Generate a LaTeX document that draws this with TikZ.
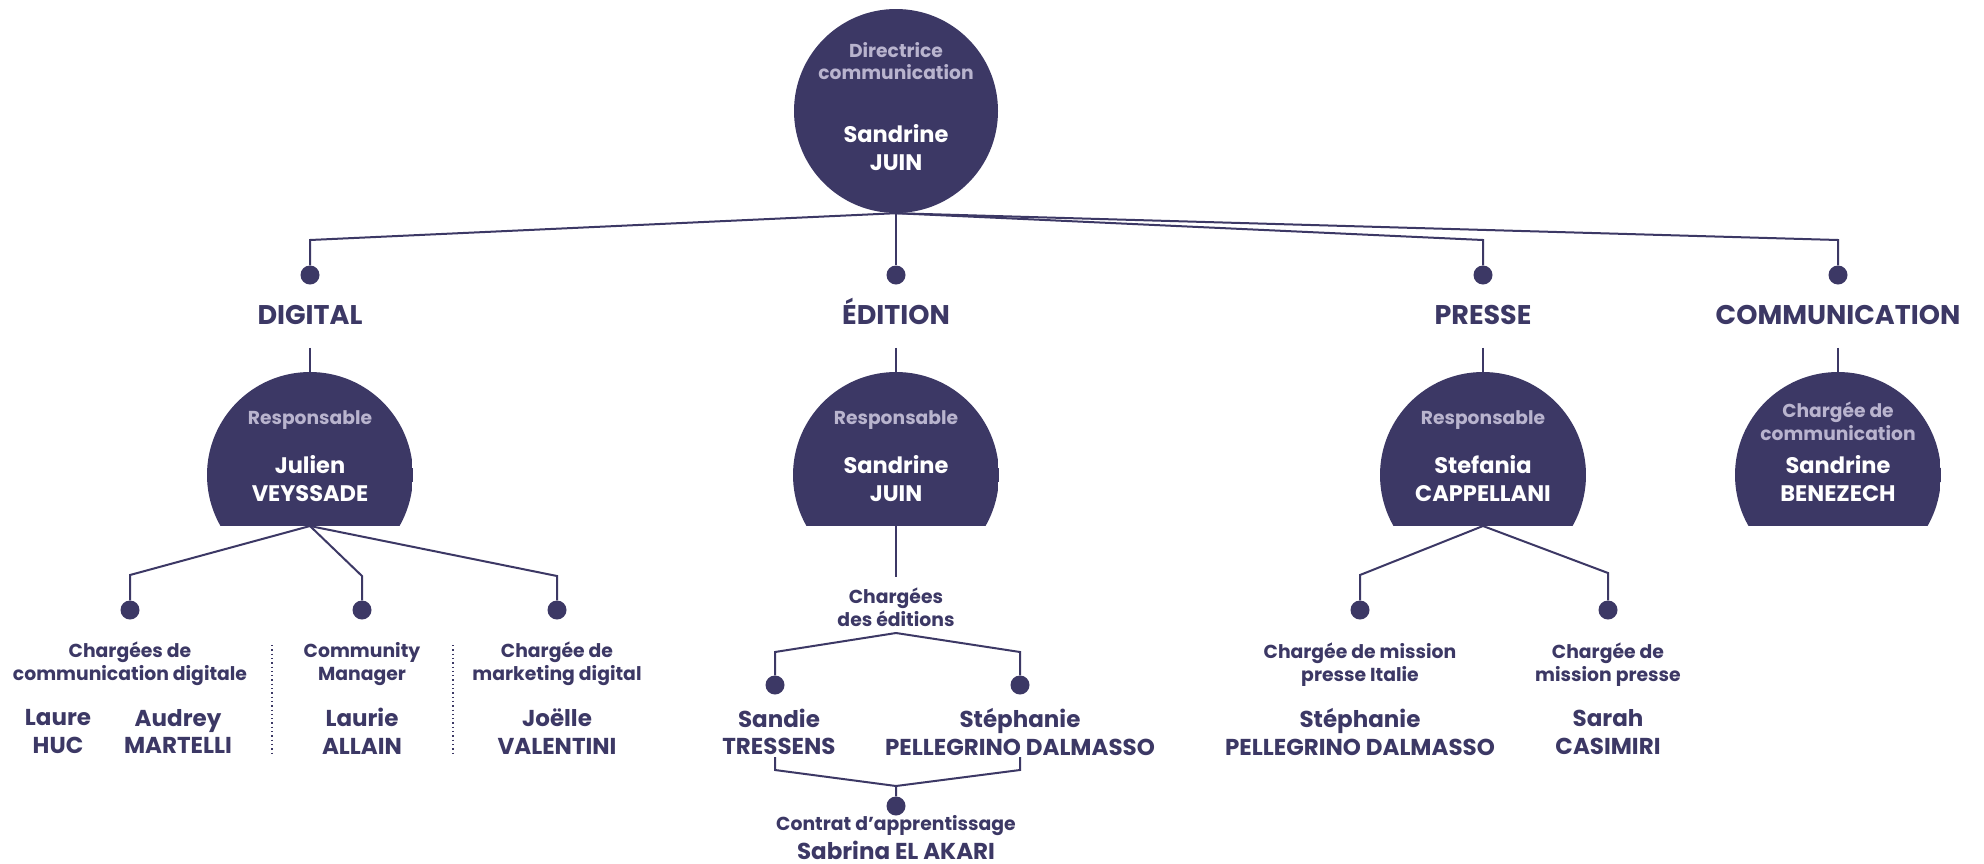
\documentclass[tikz,border=0pt]{standalone}
\usepackage{fontspec}
\setmainfont{Poppins}
\usetikzlibrary{calc}
\definecolor{navy}{HTML}{3C3865}
\definecolor{lav}{HTML}{B9B4CE}
\begin{document}
\begin{tikzpicture}[x=1pt,y=-1pt,
  conn/.style={draw=navy, line width=2pt},
  sep/.style={draw=navy, line width=1.3pt, dash pattern=on 1.3pt off 3pt},
  pdot/.style={circle, fill=navy, minimum size=19pt, inner sep=0pt},
  lvl/.style={font=\bfseries\fontsize{27}{31}\selectfont, text=navy, inner sep=0pt, text height=19.5pt, text depth=0pt},
  role/.style={font=\bfseries\fontsize{18.8}{23}\selectfont, text=navy, align=center, inner sep=0pt},
  pname/.style={font=\bfseries\fontsize{23}{27.5}\selectfont, text=navy, align=center, inner sep=0pt},
  ctitle/.style={font=\bfseries\fontsize{18.7}{22.5}\selectfont, text=lav, align=center, inner sep=0pt},
  cname/.style={font=\bfseries\fontsize{22.5}{28}\selectfont, text=white, align=center, inner sep=0pt},
  bubble/.style={circle, fill=navy, minimum size=204pt, inner sep=0pt},
  halfbub/.style={circle, minimum size=206pt, inner sep=0pt,
    path picture={\fill[navy] (path picture bounding box.north west) rectangle ($(path picture bounding box.center)+(103pt,-51pt)$);}}
]
\useasboundingbox[fill=white] (0,0) rectangle (1984,863);

% top
\node[bubble] (dir) at (896,111) {};
\node[ctitle] (dirT) at (896,61) {Directrice\\communication};
\node[cname] (dirN) at (896,148) {Sandrine\\JUIN};

% level dots
\node[pdot] (d1) at (310,275) {};
\node[pdot] (d2) at (896,275) {};
\node[pdot] (d3) at (1483,275) {};
\node[pdot] (d4) at (1838,275) {};
\draw[conn] (dir.south) -- ($(d1)+(0,-35)$) -- (d1);
\draw[conn] (dir.south) -- (d2);
\draw[conn] (dir.south) -- ($(d3)+(0,-35)$) -- (d3);
\draw[conn] (dir.south) -- ($(d4)+(0,-35)$) -- (d4);

% level labels
\node[lvl] (l1) at (310,315) {DIGITAL};
\node[lvl] (l2) at (896,315) {ÉDITION};
\node[lvl] (l3) at (1483,315) {PRESSE};
\node[lvl] (l4) at (1838,315) {COMMUNICATION};

% level circles
\node[halfbub] (dig) at (310,475) {};
\node[halfbub] (edi) at (896,475) {};
\node[halfbub] (pre) at (1483,475) {};
\node[halfbub] (com) at (1838,475) {};
\foreach \l/\c in {l1/dig,l2/edi,l3/pre,l4/com}{
  \draw[conn] ($(\l.south)+(0,23)$) -- (\c.north);
}
\coordinate (digB) at ([yshift=-51pt]dig.center);
\coordinate (ediB) at ([yshift=-51pt]edi.center);
\coordinate (preB) at ([yshift=-51pt]pre.center);

\node[ctitle] (digT) at (310,420) {Responsable};
\node[cname] (digN) at (310,478.5) {Julien\\VEYSSADE};
\node[ctitle] (ediT) at (896,420) {Responsable};
\node[cname] (ediN) at (896,478.5) {Sandrine\\JUIN};
\node[ctitle] (preT) at (1483,420) {Responsable};
\node[cname] (preN) at (1483,478.5) {Stefania\\CAPPELLANI};
\node[ctitle] (comT) at (1838,421.5) {Chargée de\\communication};
\node[cname] (comN) at (1838,478.5) {Sandrine\\BENEZECH};

% DIGITAL children
\node[pdot] (c1) at (130,610) {};
\node[pdot] (c2) at (362,610) {};
\node[pdot] (c3) at (557,610) {};
\draw[conn] (digB) -- ($(c1)+(0,-35)$) -- (c1);
\draw[conn] (digB) -- ($(c2)+(0,-34)$) -- (c2);
\draw[conn] (digB) -- ($(c3)+(0,-34)$) -- (c3);
\node[role] (r1) at (130,664) {Chargées de\\communication digitale};
\node[pname] (n1a) at (58,731.5) {Laure\\HUC};
\node[pname] (n1b) at (178,731.5) {Audrey\\MARTELLI};
\node[role] (r2) at (362,664) {Community\\Manager};
\node[pname] (n2) at (362,731.5) {Laurie\\ALLAIN};
\node[role] (r3) at (557,664) {Chargée de\\marketing digital};
\node[pname] (n3) at (557,731.5) {Joëlle\\VALENTINI};
\coordinate (s1t) at (272,645); \coordinate (s1b) at (272,753);
\coordinate (s2t) at (453,645); \coordinate (s2b) at (453,753);
\draw[sep] (s1t) -- (s1b);
\draw[sep] (s2t) -- (s2b);

% EDITION children
\coordinate (ediE) at (896,577);
\draw[conn] (ediB) -- (ediE);
\node[role] (er) at (896,607.5) {Chargées\\des éditions};
\coordinate (apx) at (896,633);
\node[pdot] (e1) at (775,685) {};
\node[pdot] (e2) at (1020,685) {};
\draw[conn] (apx) -- ($(e1)+(0,-33)$) -- (e1);
\draw[conn] (apx) -- ($(e2)+(0,-33)$) -- (e2);
\node[pname] (en1) at (779,732) {Sandie\\TRESSENS};
\node[pname] (en2) at (1020,732) {Stéphanie\\PELLEGRINO DALMASSO};
\coordinate (bL) at (775,757);
\coordinate (bR) at (1020,757);
\coordinate (bA) at (896,786);
\node[pdot] (e3) at (896,806) {};
\draw[conn] (bL) -- ($(bL)+(0,13)$) -- (bA) -- (e3);
\draw[conn] (bR) -- ($(bR)+(0,13)$) -- (bA);
\node[role] (e3r) at (896,826) {Contrat d’apprentissage};
\node[pname] (e3n) at (896,850) {Sabrina EL AKARI};

% PRESSE children
\node[pdot] (p1) at (1360,610) {};
\node[pdot] (p2) at (1608,610) {};
\draw[conn] (preB) -- ($(p1)+(0,-35)$) -- (p1);
\draw[conn] (preB) -- ($(p2)+(0,-37)$) -- (p2);
\node[role] (pr1) at (1360,664.5) {Chargée de mission\\presse Italie};
\node[pname] (pn1) at (1360,732) {Stéphanie\\PELLEGRINO DALMASSO};
\node[role] (pr2) at (1608,664.5) {Chargée de\\mission presse};
\node[pname] (pn2) at (1608,732) {Sarah\\CASIMIRI};
\end{tikzpicture}
\end{document}
